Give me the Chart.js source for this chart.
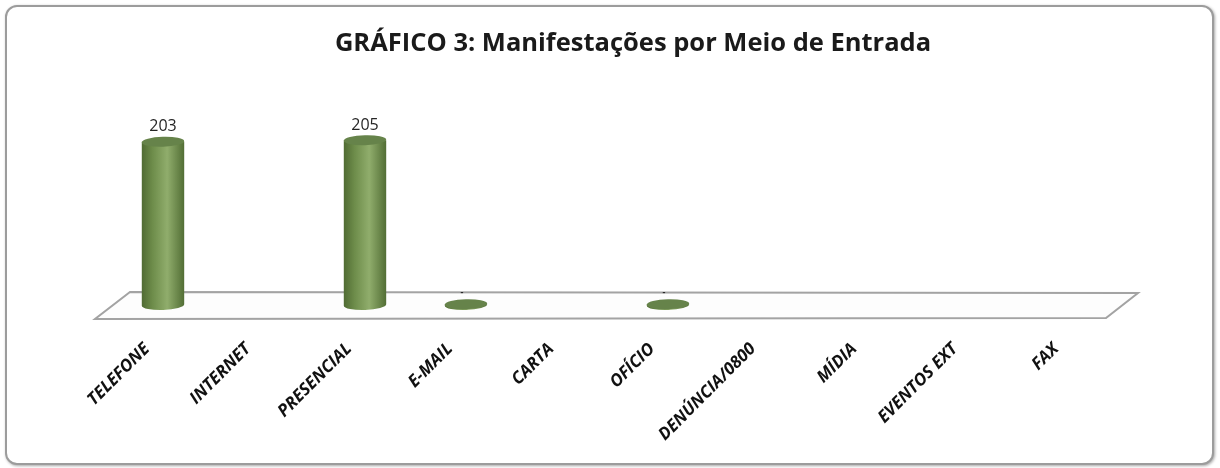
<!DOCTYPE html>
<html>
<head>
<meta charset="utf-8">
<script src="https://cdn.jsdelivr.net/npm/chart.js@4/dist/chart.umd.min.js"></script>
<style>
  body { margin: 0; background: #fff; }
  .box {
    position: absolute; left: 5px; top: 5px;
    width: 1205px; height: 456px;
    border: 2px solid #9c9c9c; border-radius: 12px;
    box-shadow: 1px 1px 3px rgba(0, 0, 0, 0.35);
    background: #fff; overflow: hidden;
  }
  canvas { display: block; }
</style>
</head>
<body>
<div class="box"><canvas class="js-chart" width="1205" height="456"></canvas></div>
<script>
// data
const categories = ['TELEFONE', 'INTERNET', 'PRESENCIAL', 'E-MAIL', 'CARTA', 'OFÍCIO',
  'DENÚNCIA/0800', 'MÍDIA', 'EVENTOS EXT', 'FAX'];
const valores = [203, 0, 205, 1, 0, 1, 0, 0, 0, 0];
const titulo = 'GRÁFICO 3: Manifestações por Meio de Entrada';

const ctx = document.querySelector('.js-chart').getContext('2d');

// floor of the 3d chart
const floorPlugin = {
  id: 'floor',
  beforeDatasetsDraw(chart) {
    const { ctx } = chart;
    const x = chart.scales.x;
    const base = chart.scales.y.getPixelForValue(0);
    ctx.save();
    ctx.beginPath();
    ctx.moveTo(x.left + 17.5, base - 13);
    ctx.lineTo(x.right + 15.5, base - 12);
    ctx.lineTo(x.right - 16.5, base + 13);
    ctx.lineTo(x.left - 17.5, base + 14);
    ctx.closePath();
    ctx.fillStyle = '#fdfdfd';
    ctx.fill();
    ctx.strokeStyle = '#a3a3a3';
    ctx.lineWidth = 2;
    ctx.stroke();
    ctx.restore();
  },
};

// cylinders + value labels
const cylinderPlugin = {
  id: 'cylinder',
  afterDatasetsDraw(chart) {
    const { ctx } = chart;
    const meta = chart.getDatasetMeta(0);
    meta.data.forEach((bar, i) => {
      const v = valores[i];
      if (!v) return;
      const { x, y, base, width } = bar.getProps(['x', 'y', 'base', 'width'], true);
      const rx = width / 2;
      const ry = 5;
      const rot = -0.03;
      ctx.save();
      const g = ctx.createLinearGradient(x - rx, 0, x + rx, 0);
      g.addColorStop(0, '#506b33');
      g.addColorStop(0.25, '#6d8c4a');
      g.addColorStop(0.6, '#90ad6c');
      g.addColorStop(1, '#526e35');
      ctx.beginPath();
      ctx.moveTo(x - rx, y);
      ctx.lineTo(x - rx, base);
      ctx.ellipse(x, base, rx, ry, rot, Math.PI, 0, true);
      ctx.lineTo(x + rx, y);
      ctx.closePath();
      ctx.fillStyle = g;
      ctx.fill();
      // top cap
      ctx.beginPath();
      ctx.ellipse(x, y, rx, ry, rot, 0, Math.PI * 2);
      ctx.fillStyle = '#66834a';
      ctx.fill();
      // value label
      ctx.fillStyle = '#262626';
      ctx.textAlign = 'center';
      ctx.textBaseline = 'middle';
      if (v > 5) {
        ctx.font = '16px "Open Sans"';
        ctx.fillText(String(v), x, y - 15);
      } else {
        ctx.font = 'bold 9px "Open Sans"';
        ctx.fillText('-', x - 4, y - 12);
      }
      ctx.restore();
    });
  },
};

// title
const titlePlugin = {
  id: 'titulo',
  beforeDraw(chart, args, options) {
    const { ctx } = chart;
    ctx.save();
    ctx.font = 'bold 25.5px "Open Sans"';
    ctx.fillStyle = '#1a1a1a';
    ctx.textAlign = 'center';
    ctx.textBaseline = 'middle';
    ctx.fillText(options.text, 626, 37);
    ctx.restore();
  },
};

const myChart = new Chart(ctx, {
  type: 'bar',
  data: {
    labels: categories,
    datasets: [{
      label: 'Manifestações',
      data: valores,
      backgroundColor: 'rgba(0,0,0,0)',
      barPercentage: 0.42,
      categoryPercentage: 1,
    }],
  },
  plugins: [floorPlugin, cylinderPlugin, titlePlugin],
  options: {
    responsive: false,
    animation: false,
    layout: {
      padding: { left: 105.5, right: 89.5, top: 97, bottom: 0 },
    },
    plugins: {
      legend: { display: false },
      tooltip: { enabled: false },
      titulo: { text: titulo },
    },
    scales: {
      x: {
        grid: { display: false, drawTicks: false },
        border: { display: false },
        afterFit(scale) { scale.height = 158; },
        ticks: {
          minRotation: 45,
          maxRotation: 45,
          padding: 34,
          labelOffset: -16,
          color: '#111',
          font: { family: 'Open Sans', size: 17, weight: 'bold', style: 'italic' },
        },
      },
      y: {
        display: false,
        min: 0,
        max: 250,
      },
    },
  },
});
</script>
</body>
</html>
